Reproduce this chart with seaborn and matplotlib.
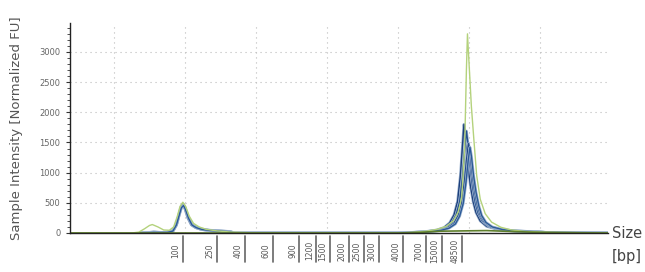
import pandas as pd
import matplotlib.pyplot as plt
import matplotlib.patheffects as pe
import matplotlib.transforms as mtransforms
import seaborn as sns

# ladder sizes and where they sit on the migration axis
ladder_bp = ["100", "250", "400", "600", "900", "1200", "1500", "2000",
             "2500", "3000", "4000", "7000", "15000", "48500"]
ladder_t = [19.7, 24.5, 28.5, 32.4, 36.1, 38.5, 40.4, 43.1,
            45.2, 47.3, 50.7, 53.9, 56.2, 59.0]

# green sample
green_t = [3.8, 12.5, 13.5, 14.3, 15.0, 15.4, 16.2, 17.0, 17.8, 18.4, 18.9, 19.3,
           19.7, 20.1, 20.6, 21.2, 22.0, 23.0, 24.5, 26.5, 29.0, 50.0, 52.0, 54.0,
           55.5, 56.8, 57.8, 58.5, 59.0, 59.4, 59.65, 59.8, 60.05, 60.35, 60.7,
           61.1, 61.6, 62.3, 63.2, 64.5, 66.0, 68.0, 72.0, 79.6]
green_fu = [0, 0, 15, 70, 125, 140, 100, 50, 45, 100, 270, 440,
            510, 440, 280, 160, 100, 60, 35, 15, 5, 0, 10, 30,
            60, 110, 200, 350, 600, 1400, 2700, 3300, 2750, 2100, 1550,
            950, 560, 320, 180, 95, 50, 25, 10, 0]

# blue samples
blue_t = [13.7, 15.0, 15.6, 16.5, 17.5, 18.3, 18.8, 19.2, 19.5, 19.75, 20.0, 20.4,
          20.9, 21.5, 22.3, 23.5, 25.0, 26.3, 27.0, 50.0, 52.0, 54.0, 55.5, 56.5,
          57.3, 57.9, 58.4, 58.8, 59.1, 59.3, 59.5, 59.8, 60.2, 60.6, 61.0, 61.6,
          62.5, 64.0, 66.0, 69.0, 71.0, 75.0, 79.6]
blue1_fu = [0, 10, 18, 8, 12, 40, 150, 330, 450, 480, 420, 260,
            140, 90, 60, 40, 30, 25, 0, 0, 10, 25, 50, 90,
            170, 300, 520, 950, 1450, 1800, 1600, 1200, 800, 520, 340, 200,
            110, 60, 35, 22, 8, 5, 0]

blue2_t = [13.7, 15.0, 15.6, 16.5, 17.5, 18.3, 18.8, 19.2, 19.5, 19.8, 20.05, 20.5,
           21.0, 21.6, 22.4, 23.6, 25.0, 26.3, 27.0, 50.0, 52.0, 54.0, 55.5, 56.8,
           57.6, 58.2, 58.7, 59.1, 59.4, 59.65, 59.85, 60.15, 60.5, 60.9, 61.3, 61.9,
           62.8, 64.3, 66.5, 69.5, 71.0, 75.0, 79.6]
blue2_fu = [0, 8, 15, 10, 10, 35, 140, 320, 440, 470, 410, 250,
            140, 95, 65, 45, 35, 25, 0, 0, 8, 22, 45, 90,
            170, 300, 520, 920, 1380, 1690, 1500, 1150, 780, 500, 330, 200,
            110, 60, 35, 20, 8, 5, 0]

blue3_t = [13.7, 15.0, 15.6, 16.5, 17.5, 18.3, 18.8, 19.2, 19.5, 19.75, 20.0, 20.4,
           20.9, 21.5, 22.3, 23.5, 25.0, 26.3, 27.0, 50.0, 52.0, 54.0, 55.8, 57.0,
           57.9, 58.5, 59.0, 59.4, 59.7, 59.95, 60.15, 60.45, 60.8, 61.2, 61.6, 62.2,
           63.1, 64.6, 66.8, 69.8, 71.0, 75.0, 79.6]
blue3_fu = [0, 6, 12, 8, 10, 30, 130, 310, 430, 460, 400, 250,
            135, 90, 60, 42, 32, 22, 0, 0, 8, 20, 45, 85,
            160, 290, 500, 880, 1250, 1480, 1330, 1000, 700, 460, 300, 180,
            100, 55, 30, 18, 8, 5, 0]

blue4_t = [13.7, 15.0, 15.6, 16.5, 17.5, 18.3, 18.8, 19.2, 19.5, 19.8, 20.05, 20.5,
           21.0, 21.6, 22.4, 23.6, 25.0, 26.3, 27.0, 50.0, 52.0, 54.0, 56.0, 57.2,
           58.1, 58.7, 59.2, 59.6, 59.9, 60.15, 60.35, 60.65, 61.0, 61.4, 61.8, 62.4,
           63.3, 64.8, 67.0, 70.0, 71.0, 75.0, 79.6]
blue4_fu = [0, 5, 10, 8, 10, 32, 135, 300, 420, 455, 395, 245,
            130, 88, 58, 40, 30, 20, 0, 0, 6, 18, 42, 80,
            150, 280, 490, 850, 1200, 1420, 1280, 960, 680, 450, 290, 175,
            100, 55, 30, 18, 8, 5, 0]

# olive sample, mostly flat
olive_t = [3.8, 50.0, 53.0, 56.0, 62.5, 66.0, 70.0, 79.6]
olive_fu = [0, 0, 10, 30, 40, 25, 10, 0]

traces = {
    "blue1": (blue_t, blue1_fu),
    "blue2": (blue2_t, blue2_fu),
    "blue3": (blue3_t, blue3_fu),
    "blue4": (blue4_t, blue4_fu),
    "green": (green_t, green_fu),
    "olive": (olive_t, olive_fu),
}
colors = {"blue1": "#1c3f7c", "blue2": "#24508f", "blue3": "#1f4583",
          "blue4": "#2b5a98", "green": "#b4d27c", "olive": "#5e7f2c"}

df = pd.concat([pd.DataFrame({"t": t, "fu": fu, "trace": name})
                for name, (t, fu) in traces.items()], ignore_index=True)

sns.set_style("white")
plt.rcParams["font.family"] = ["DejaVu Sans"]

fig = plt.figure(figsize=(6.45, 2.72), dpi=100)
ax = fig.add_axes([70 / 645, 39 / 272, 538 / 645, 210 / 272])

for name in traces:
    sub = df[df["trace"] == name]
    sns.lineplot(data=sub, x="t", y="fu", color=colors[name], sort=False,
                 estimator=None, lw=1.0 if name != "olive" else 1.2, ax=ax)
    if name.startswith("blue"):
        ax.lines[-1].set_path_effects([pe.Stroke(linewidth=2.0, foreground="#9db3cf"),
                                       pe.Normal()])

ax.set_xlim(3.8, 79.6)
ax.set_ylim(0, 3480)
ax.set_xlabel("")
ax.set_ylabel("")

ax.set_xticks([10, 20, 30, 40, 50, 60, 70])
ax.set_xticklabels([])
ax.tick_params(axis="x", length=0)
ax.set_yticks(range(0, 3001, 500))
ax.set_yticks(range(0, 3401, 100), minor=True)
ax.tick_params(axis="y", which="major", length=3, width=0.8, color="#333333",
               labelsize=6, labelcolor="#666666", pad=4, left=True)
ax.tick_params(axis="y", which="minor", length=2, width=0.6, color="#333333", left=True)

ax.grid(True, which="major", color="#bbbbbb", lw=0.8, ls=(0, (1, 3.5)))
for s in ["top", "right"]:
    ax.spines[s].set_visible(False)
for s in ["left", "bottom"]:
    ax.spines[s].set_color("#222222")
    ax.spines[s].set_linewidth(1.0)

# ladder markers below the axis
trans = mtransforms.blended_transform_factory(ax.transData, ax.transAxes)
for t, lab in zip(ladder_t, ladder_bp):
    ax.plot([t, t], [-0.015, -0.138], color="#666666", lw=1.2,
            transform=trans, clip_on=False)
    ax.text(t - 0.95, -0.085, lab, rotation=90, ha="center", va="center",
            fontsize=5.5, color="#555555", transform=trans)

fig.text(17 / 645, 0.5 + 0.03, "Sample Intensity [Normalized FU]", rotation=90,
         ha="center", va="center", fontsize=9.5, color="#555555")
fig.text(612 / 645, 39 / 272, "Size", ha="left", va="center", fontsize=10.5, color="#444444")
fig.text(612 / 645, 16 / 272, "[bp]", ha="left", va="center", fontsize=10.5, color="#444444")

fig.savefig("out.png", dpi=100)
